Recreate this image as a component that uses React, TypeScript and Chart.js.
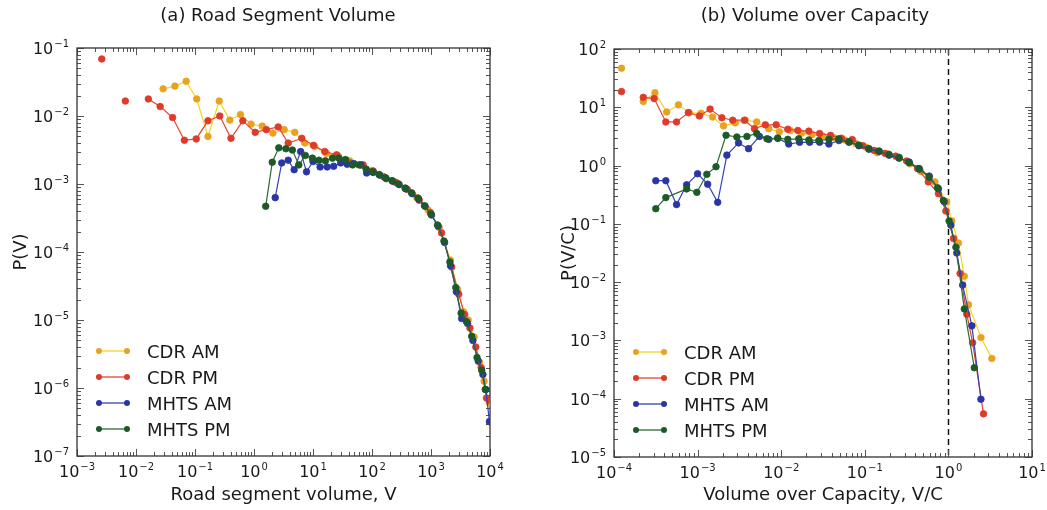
import React, { useEffect, useRef } from "react";
import { Chart, registerables } from "chart.js";

Chart.register(...registerables);

const FONT_FAMILY = "'DejaVu Sans', 'Liberation Sans', sans-serif";
const INK = "#1a1a1a";

Chart.defaults.font.family = FONT_FAMILY;

// ---- (a) Road segment volume: P(V) against V ----
const volCdrAmX = [0.0288, 0.0457, 0.0708, 0.107, 0.166, 0.257, 0.389, 0.589, 0.891, 1.38, 2.09, 3.24, 4.9, 7.24, 10.7, 17.0, 26.9, 41.7, 64.6, 100, 155, 240, 372, 575, 891, 1380, 2140, 2820, 3550, 4270, 5370, 6610, 7940, 9770];
const volCdrAmP = [2.51e-2, 2.75e-2, 3.24e-2, 1.78e-2, 5.0e-3, 1.66e-2, 8.7e-3, 1.05e-2, 7.6e-3, 7.1e-3, 5.6e-3, 6.3e-3, 5.75e-3, 4.0e-3, 3.55e-3, 2.82e-3, 2.57e-3, 2.19e-3, 1.91e-3, 1.58e-3, 1.29e-3, 1.07e-3, 8.7e-4, 6.3e-4, 4.17e-4, 2.29e-4, 7.6e-5, 2.82e-5, 1.32e-5, 1.0e-5, 5.6e-6, 2.4e-6, 1.26e-6, 6.0e-7];

const volCdrPmX = [0.00263, 0.00417, 0.0066, 0.0105, 0.0162, 0.0257, 0.0417, 0.066, 0.105, 0.166, 0.263, 0.407, 0.646, 1.05, 1.62, 2.57, 3.8, 6.46, 10.2, 15.8, 25.1, 42.7, 70.8, 105, 162, 257, 398, 631, 977, 1510, 2240, 2950, 3720, 4570, 5750, 7080, 8710, 9770];
const volCdrPmP = [6.9e-2, null, 1.66e-2, null, 1.78e-2, 1.38e-2, 9.5e-3, 4.4e-3, 4.6e-3, 8.5e-3, 1.0e-2, 4.7e-3, 8.5e-3, 5.75e-3, 6.3e-3, 6.9e-3, 4.0e-3, 4.7e-3, 3.7e-3, 3.0e-3, 2.69e-3, 2.04e-3, 1.91e-3, 1.55e-3, 1.26e-3, 1.05e-3, 8.3e-4, 5.75e-4, 3.8e-4, 1.91e-4, 6.0e-5, 2.4e-5, 1.2e-5, 7.6e-6, 4.0e-6, 2.0e-6, 7.1e-7, 6.6e-7];

const volMhtsAmX = [2.29, 2.95, 3.8, 4.79, 6.17, 7.76, 10, 13.2, 17.4, 22.4, 29.5, 38, 49, 64.6, 81.3, 105, 135, 174, 224, 288, 372, 479, 617, 794, 1020, 1320, 1700, 2140, 2690, 3310, 4170, 5130, 6310, 7590, 8510, 9770];
const volMhtsAmP = [6.3e-4, 2.04e-3, 2.24e-3, 1.62e-3, 3.0e-3, 1.51e-3, 2.14e-3, 1.78e-3, 1.78e-3, 1.82e-3, 2.04e-3, 1.95e-3, 2.0e-3, 1.91e-3, 1.45e-3, 1.48e-3, 1.35e-3, 1.2e-3, 1.1e-3, 9.8e-4, 8.5e-4, 7.2e-4, 6.0e-4, 4.7e-4, 3.5e-4, 2.4e-4, 1.38e-4, 6.3e-5, 2.6e-5, 1.05e-5, 8.9e-6, 5.0e-6, 2.5e-6, 1.58e-6, 9.5e-7, 3.2e-7];

const volMhtsPmX = [1.58, 2.04, 2.63, 3.47, 4.47, 5.75, 7.41, 9.77, 12.6, 16.2, 21.4, 27.5, 35.5, 46.8, 60.3, 79.4, 102, 132, 170, 219, 282, 363, 468, 603, 776, 1000, 1290, 1660, 2090, 2630, 3240, 3980, 4900, 6030, 7240, 8320];
const volMhtsPmP = [4.7e-4, 2.09e-3, 3.4e-3, 3.3e-3, 3.16e-3, 1.91e-3, 2.63e-3, 2.4e-3, 2.24e-3, 2.19e-3, 2.4e-3, 2.4e-3, 2.29e-3, 1.91e-3, 1.91e-3, 1.66e-3, 1.51e-3, 1.38e-3, 1.23e-3, 1.12e-3, 1.0e-3, 8.7e-4, 7.4e-4, 6.2e-4, 4.8e-4, 3.6e-4, 2.5e-4, 1.45e-4, 7.1e-5, 3.0e-5, 1.26e-5, 9.5e-6, 5.75e-6, 2.8e-6, 1.82e-6, 9.5e-7];

// ---- (b) Volume over capacity: P(V/C) against V/C ----
const vcCdrAmX = [1.23e-4, 1.66e-4, 2.24e-4, 3.09e-4, 4.27e-4, 5.9e-4, 7.9e-4, 1.1e-3, 1.51e-3, 2.04e-3, 2.82e-3, 3.72e-3, 5.1e-3, 7.1e-3, 9.5e-3, 1.29e-2, 1.74e-2, 2.34e-2, 3.16e-2, 4.27e-2, 5.75e-2, 7.76e-2, 0.105, 0.141, 0.191, 0.257, 0.347, 0.468, 0.69, 0.955, 1.1, 1.32, 1.55, 1.74, 2.45, 3.31];
const vcCdrAmP = [46.8, null, 12.6, 17.8, 8.3, 11.0, 8.1, 7.9, 6.8, 4.8, 5.4, 6.0, 5.6, 4.3, 3.8, 4.0, 3.6, 3.4, 3.2, 3.0, 2.75, 2.4, 2.04, 1.66, 1.58, 1.32, 1.07, 0.79, 0.525, 0.24, 0.112, 0.047, 0.0126, 4.1e-3, 1.12e-3, 4.9e-4];

const vcCdrPmX = [1.23e-4, 1.66e-4, 2.24e-4, 3.02e-4, 4.17e-4, 5.6e-4, 7.76e-4, 1.05e-3, 1.41e-3, 1.95e-3, 2.63e-3, 3.63e-3, 4.79e-3, 6.46e-3, 8.7e-3, 1.2e-2, 1.58e-2, 2.14e-2, 2.88e-2, 3.89e-2, 5.25e-2, 7.08e-2, 9.5e-2, 0.129, 0.174, 0.234, 0.316, 0.427, 0.575, 0.76, 0.933, 1.15, 1.38, 1.66, 1.95, 2.63];
const vcCdrPmP = [18.6, null, 14.8, 14.1, 5.6, 5.6, 8.1, 7.1, 9.3, 6.6, 6.0, 6.0, 4.3, 5.0, 5.0, 4.2, 4.0, 3.9, 3.55, 3.3, 2.95, 2.8, 2.19, 1.82, 1.62, 1.45, 1.2, 0.89, 0.525, 0.33, 0.166, 0.056, 0.0141, 2.82e-3, 9.1e-4, 5.5e-5];

const vcMhtsAmX = [3.16e-4, 4.17e-4, 5.6e-4, 7.4e-4, 1.0e-3, 1.32e-3, 1.74e-3, 2.24e-3, 3.09e-3, 4.07e-3, 5.5e-3, 7.1e-3, 9.1e-3, 1.23e-2, 1.66e-2, 2.19e-2, 2.88e-2, 3.72e-2, 4.9e-2, 6.46e-2, 8.5e-2, 0.112, 0.148, 0.195, 0.257, 0.339, 0.447, 0.589, 0.76, 0.891, 1.07, 1.26, 1.48, 1.91, 2.45];
const vcMhtsAmP = [0.55, 0.55, 0.214, 0.468, 0.724, 0.479, 0.234, 1.51, 2.45, 1.95, 3.16, 2.82, 2.95, 2.34, 2.51, 2.51, 2.51, 2.34, 2.69, 2.51, 2.19, 1.91, 1.74, 1.51, 1.35, 1.15, 0.89, 0.66, 0.4, 0.24, 0.095, 0.0316, 8.9e-3, 1.78e-3, 9.8e-5];

const vcMhtsPmX = [3.16e-4, 4.17e-4, 7.4e-4, 9.8e-4, 1.29e-3, 1.66e-3, 2.19e-3, 2.95e-3, 3.89e-3, 5.1e-3, 6.76e-3, 9.1e-3, 1.2e-2, 1.62e-2, 2.14e-2, 2.82e-2, 3.72e-2, 4.9e-2, 6.46e-2, 8.5e-2, 0.112, 0.148, 0.195, 0.257, 0.339, 0.447, 0.589, 0.741, 0.871, 1.02, 1.23, 1.55, 2.04];
const vcMhtsPmP = [0.182, 0.282, 0.398, 0.347, 0.708, 0.955, 3.31, 3.09, 3.16, 3.55, 2.88, 2.95, 2.82, 2.88, 2.75, 2.69, 2.82, 2.88, 2.57, 2.24, 1.95, 1.78, 1.55, 1.38, 1.12, 0.87, 0.63, 0.417, 0.251, 0.112, 0.0398, 3.47e-3, 3.4e-4];

// ---- axis ticks ----
const volumeTicks = [1e-3, 1e-2, 1e-1, 1, 10, 100, 1e3, 1e4];
const volumeProbTicks = [1e-7, 1e-6, 1e-5, 1e-4, 1e-3, 1e-2, 1e-1];
const ratioTicks = [1e-4, 1e-3, 1e-2, 1e-1, 1, 10];
const ratioProbTicks = [1e-5, 1e-4, 1e-3, 1e-2, 1e-1, 1, 10, 100];

// ---- series styling ----
const seriesLabels = ["CDR AM", "CDR PM", "MHTS AM", "MHTS PM"];
const lineColors = ["#f2d61e", "#e8432f", "#3442b4", "#2b6b32"];
const dotColors = ["#e9a21f", "#e03a2a", "#2b36a6", "#1d5a27"];

const BASE_FONT = `16px ${FONT_FAMILY}`;
const EXP_FONT = `10px ${FONT_FAMILY}`;

// "10" followed by a raised exponent, the way log-axis labels are usually typeset
function drawPowerLabel(ctx: CanvasRenderingContext2D, value: number, x: number, baseline: number, align: "center" | "right") {
  const exp = Math.round(Math.log10(value));
  const expText = exp < 0 ? "\u2212" + String(-exp) : String(exp);
  ctx.font = BASE_FONT;
  const wBase = ctx.measureText("10").width;
  ctx.font = EXP_FONT;
  const wExp = ctx.measureText(expText).width;
  const total = wBase + 1 + wExp;
  const start = align === "center" ? x - total / 2 : x - total;
  ctx.textAlign = "left";
  ctx.textBaseline = "alphabetic";
  ctx.font = BASE_FONT;
  ctx.fillText("10", start, baseline);
  ctx.font = EXP_FONT;
  ctx.fillText(expText, start + wBase + 1, baseline - 7);
}

// decade and sub-decade positions for the inward tick marks
function logMarks(min: number, max: number) {
  const marks: { v: number; major: boolean }[] = [];
  const lo = Math.floor(Math.log10(min));
  const hi = Math.ceil(Math.log10(max));
  for (let e = lo; e <= hi; e++) {
    for (let k = 1; k < 10; k++) {
      const v = k * Math.pow(10, e);
      if (v >= min * 0.999 && v <= max * 1.001) marks.push({ v, major: k === 1 });
    }
  }
  return marks;
}

type Area = { left: number; right: number; top: number; bottom: number };

type PanelProps = {
  left: number;
  width: number;
  height: number;
  area: Area;
  title: string;
  titleX: number;
  xTitle: string;
  yTitle: string;
  yTitlePad: number;
  xs: number[][];
  ys: (number | null)[][];
  xMin: number;
  xMax: number;
  yMin: number;
  yMax: number;
  xTicks: number[];
  yTicks: number[];
  refLine?: number;
};

function Panel(p: PanelProps) {
  const ref = useRef<HTMLCanvasElement>(null);

  useEffect(() => {
    const canvas = ref.current;
    if (!canvas) return;

    const datasets = seriesLabels.map((label, i) => ({
      label,
      data: p.xs[i].map((x, j) => ({ x, y: p.ys[i][j] })),
      borderColor: lineColors[i],
      backgroundColor: dotColors[i],
      pointBackgroundColor: dotColors[i],
      pointBorderColor: dotColors[i],
      pointRadius: 3.3,
      pointBorderWidth: 0.8,
      borderWidth: 1.2,
      showLine: true,
      spanGaps: false,
      tension: 0,
      order: seriesLabels.length - i,
    }));

    const decor = {
      id: "panelDecor",
      beforeDatasetsDraw(chart: any) {
        const { ctx, chartArea: a, scales } = chart;
        const xs = scales.x;
        const ys = scales.y;
        ctx.save();

        if (p.refLine !== undefined) {
          const px = Math.round(xs.getPixelForValue(p.refLine)) + 0.5;
          ctx.setLineDash([6, 4]);
          ctx.lineWidth = 1.5;
          ctx.strokeStyle = "#111";
          ctx.beginPath();
          ctx.moveTo(px, a.top);
          ctx.lineTo(px, a.bottom);
          ctx.stroke();
          ctx.setLineDash([]);
        }

        ctx.strokeStyle = "#555";
        ctx.lineWidth = 1;
        ctx.beginPath();
        for (const m of logMarks(p.xMin, p.xMax)) {
          const px = Math.round(xs.getPixelForValue(m.v)) + 0.5;
          const len = m.major ? 7 : 4;
          ctx.moveTo(px, a.bottom);
          ctx.lineTo(px, a.bottom - len);
          ctx.moveTo(px, a.top);
          ctx.lineTo(px, a.top + len);
        }
        for (const m of logMarks(p.yMin, p.yMax)) {
          const py = Math.round(ys.getPixelForValue(m.v)) + 0.5;
          const len = m.major ? 7 : 4;
          ctx.moveTo(a.left, py);
          ctx.lineTo(a.left + len, py);
          ctx.moveTo(a.right, py);
          ctx.lineTo(a.right - len, py);
        }
        ctx.stroke();

        ctx.strokeStyle = "#333";
        ctx.lineWidth = 1.3;
        ctx.strokeRect(a.left, a.top, a.right - a.left, a.bottom - a.top);
        ctx.restore();
      },
      afterDraw(chart: any) {
        const { ctx, chartArea: a, scales } = chart;
        ctx.save();

        // tick labels
        ctx.fillStyle = INK;
        for (const v of p.xTicks) {
          drawPowerLabel(ctx, v, scales.x.getPixelForValue(v), a.bottom + 21, "center");
        }
        for (const v of p.yTicks) {
          drawPowerLabel(ctx, v, a.left - 8, scales.y.getPixelForValue(v) + 6, "right");
        }

        // panel heading
        ctx.fillStyle = INK;
        ctx.font = `18px ${FONT_FAMILY}`;
        ctx.textAlign = "center";
        ctx.textBaseline = "alphabetic";
        ctx.fillText(p.title, p.titleX, 21);

        // legend in the lower-left corner of the plot
        const rows = [105, 79, 53, 27];
        seriesLabels.forEach((label, i) => {
          const y = a.bottom - rows[i];
          const x0 = a.left + 22;
          const x1 = a.left + 50;
          ctx.strokeStyle = lineColors[i];
          ctx.lineWidth = 1.3;
          ctx.beginPath();
          ctx.moveTo(x0, y);
          ctx.lineTo(x1, y);
          ctx.stroke();
          ctx.fillStyle = dotColors[i];
          for (const cx of [x0, x1]) {
            ctx.beginPath();
            ctx.arc(cx, y, 3, 0, Math.PI * 2);
            ctx.fill();
          }
          ctx.fillStyle = INK;
          ctx.font = `18px ${FONT_FAMILY}`;
          ctx.textAlign = "left";
          ctx.textBaseline = "alphabetic";
          ctx.fillText(label, a.left + 70, y + 6.5);
        });
        ctx.restore();
      },
    };

    const chart = new Chart(canvas, {
      type: "line",
      data: { datasets: datasets as any },
      options: {
        responsive: false,
        animation: false,
        events: [],
        layout: {
          padding: { left: 0, right: p.width - p.area.right, top: p.area.top, bottom: 0 },
        },
        plugins: {
          legend: { display: false },
          tooltip: { enabled: false },
          title: { display: false },
        },
        scales: {
          x: {
            type: "logarithmic",
            min: p.xMin,
            max: p.xMax,
            grid: { display: false, drawTicks: false },
            border: { display: false },
            afterBuildTicks: (s: any) => {
              s.ticks = p.xTicks.map((v) => ({ value: v }));
            },
            afterFit: (s: any) => {
              s.height = p.height - p.area.bottom;
              s.paddingLeft = 0;
              s.paddingRight = 0;
            },
            ticks: { display: false, autoSkip: false },
            title: {
              display: true,
              text: p.xTitle,
              color: INK,
              font: { size: 18, family: FONT_FAMILY },
              padding: { top: 0, bottom: 4 },
            },
          },
          y: {
            type: "logarithmic",
            min: p.yMin,
            max: p.yMax,
            grid: { display: false, drawTicks: false },
            border: { display: false },
            afterBuildTicks: (s: any) => {
              s.ticks = p.yTicks.map((v) => ({ value: v }));
            },
            afterFit: (s: any) => {
              s.width = p.area.left;
              s.paddingTop = 0;
              s.paddingBottom = 0;
            },
            ticks: { display: false, autoSkip: false },
            title: {
              display: true,
              text: p.yTitle,
              color: INK,
              font: { size: 18, family: FONT_FAMILY },
              padding: { top: p.yTitlePad, bottom: 0 },
            },
          },
        },
      } as any,
      plugins: [decor],
    });

    return () => chart.destroy();
  }, []);

  return (
    <div style={{ position: "absolute", left: p.left, top: 0, width: p.width, height: p.height }}>
      <canvas
        ref={ref}
        width={p.width}
        height={p.height}
        style={{ width: p.width, height: p.height, display: "block" }}
      />
    </div>
  );
}

export default function App() {
  return (
    <div
      style={{
        position: "absolute",
        left: 0,
        top: 0,
        width: 1047,
        height: 510,
        background: "#ffffff",
        overflow: "hidden",
      }}
    >
      <Panel
        left={0}
        width={556}
        height={510}
        area={{ left: 77, right: 490, top: 48, bottom: 456 }}
        title="(a) Road Segment Volume"
        titleX={278}
        xTitle="Road segment volume, V"
        yTitle="P(V)"
        yTitlePad={11}
        xs={[volCdrAmX, volCdrPmX, volMhtsAmX, volMhtsPmX]}
        ys={[volCdrAmP, volCdrPmP, volMhtsAmP, volMhtsPmP]}
        xMin={1e-3}
        xMax={1e4}
        yMin={1e-7}
        yMax={1e-1}
        xTicks={volumeTicks}
        yTicks={volumeProbTicks}
      />
      <Panel
        left={556}
        width={491}
        height={510}
        area={{ left: 58, right: 476, top: 49, bottom: 457 }}
        title="(b) Volume over Capacity"
        titleX={259}
        xTitle="Volume over Capacity, V/C"
        yTitle="P(V/C)"
        yTitlePad={3}
        xs={[vcCdrAmX, vcCdrPmX, vcMhtsAmX, vcMhtsPmX]}
        ys={[vcCdrAmP, vcCdrPmP, vcMhtsAmP, vcMhtsPmP]}
        xMin={1e-4}
        xMax={10}
        yMin={1e-5}
        yMax={100}
        xTicks={ratioTicks}
        yTicks={ratioProbTicks}
        refLine={1}
      />
    </div>
  );
}
